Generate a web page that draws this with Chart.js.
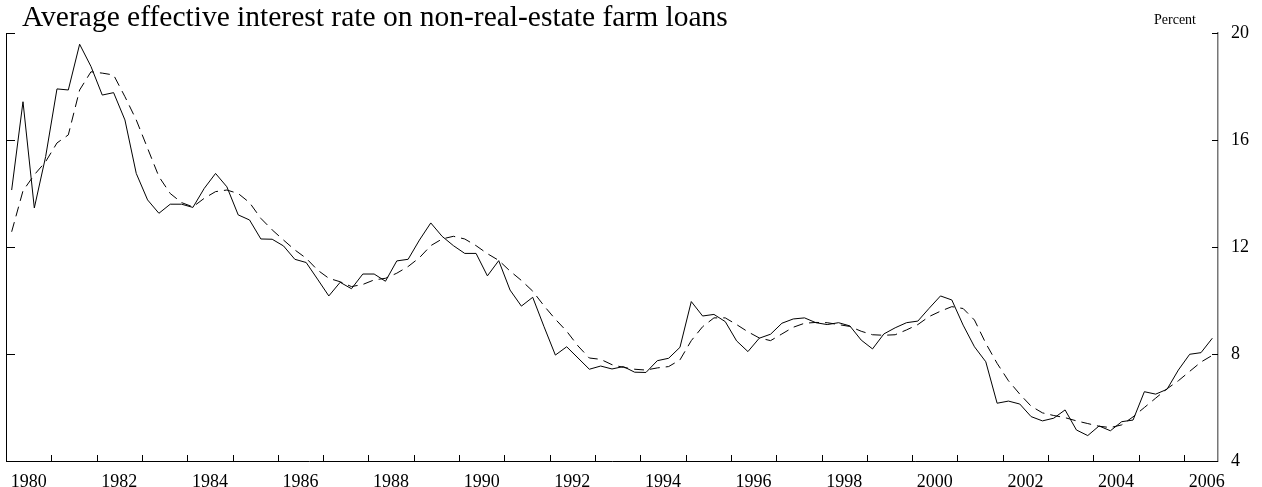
<!DOCTYPE html>
<html>
<head>
<meta charset="utf-8">
<script src="https://cdn.jsdelivr.net/npm/chart.js@4.4.1/dist/chart.umd.min.js"></script>
<style>
  body { margin: 0; background: #fff; }
  #wrap { position: relative; width: 1262px; height: 487px; }
  #title { position: absolute; left: 22px; top: 0px; font: 29.5px "Liberation Serif", serif; line-height: 32px; color: #000; }
  #unit { position: absolute; right: 66px; top: 12px; font: 14px "Liberation Serif", serif; color: #000; }
</style>
</head>
<body>
<div id="wrap">
  <canvas id="chart" width="1262" height="487"></canvas>
  <div id="title">Average effective interest rate on non-real-estate farm loans</div>
  <div id="unit">Percent</div>
</div>
<script>
// quarterly, 1980Q1 - 2006Q3
const startYear = 1980;
const yTicks = [4, 8, 12, 16, 20];
const xLabelYears = [1980, 1982, 1984, 1986, 1988, 1990, 1992, 1994, 1996, 1998, 2000, 2002, 2004, 2006];

const rate = [
  14.13, 17.43, 13.46, 15.38, 17.91, 17.87, 19.58, 18.75, 17.68, 17.77,
  16.75, 14.75, 13.76, 13.26, 13.6, 13.6, 13.48, 14.19, 14.75, 14.25,
  13.2, 13.01, 12.3, 12.29, 12.04, 11.54, 11.42, 10.8, 10.17, 10.68,
  10.44, 10.99, 10.99, 10.72, 11.48, 11.54, 12.26, 12.9, 12.4, 12.05,
  11.76, 11.76, 10.92, 11.49, 10.39, 9.79, 10.12, 9.02, 7.96, 8.27,
  7.85, 7.43, 7.55, 7.44, 7.53, 7.32, 7.31, 7.75, 7.84, 8.25,
  9.96, 9.42, 9.48, 9.21, 8.49, 8.09, 8.59, 8.74, 9.15, 9.31,
  9.35, 9.17, 9.10, 9.17, 9.05, 8.52, 8.19, 8.75, 8.98, 9.17,
  9.23, 9.71, 10.17, 10.02, 9.08, 8.27, 7.71, 6.16, 6.24, 6.13,
  5.66, 5.50, 5.60, 5.91, 5.16, 4.95, 5.31, 5.13, 5.47, 5.53,
  6.59, 6.50, 6.68, 7.40, 7.99, 8.05, 8.59
];

const smoothed = [
  12.57, 14.1, 14.7, 15.19, 15.89, 16.19, 17.87, 18.55, 18.5, 18.43,
  17.62, 16.75, 15.69, 14.63, 14.0, 13.66, 13.5, 13.82, 14.07, 14.13,
  14.0, 13.66, 13.07, 12.64, 12.26, 11.89, 11.58, 11.14, 10.83, 10.7,
  10.52, 10.6, 10.77, 10.83, 11.02, 11.27, 11.6, 12.05, 12.3, 12.4,
  12.3, 12.05, 11.75, 11.5, 11.1, 10.75, 10.35, 9.8, 9.3, 8.85,
  8.3, 7.85, 7.8, 7.6, 7.5, 7.43, 7.4, 7.48, 7.53, 7.78,
  8.5, 9.02, 9.35, 9.35, 9.1, 8.83, 8.6, 8.5, 8.75, 9.0,
  9.15, 9.18, 9.17, 9.1, 9.03, 8.85, 8.72, 8.7, 8.72, 8.9,
  9.1, 9.4, 9.6, 9.77, 9.7, 9.27, 8.4, 7.65, 7.0, 6.5,
  6.05, 5.8, 5.7, 5.62, 5.5, 5.4, 5.3, 5.25, 5.35, 5.65,
  6.0, 6.35, 6.7, 7.0, 7.35, 7.7, 7.95
];

const toPoints = arr => arr.map((v, i) => ({ x: startYear + i / 4 + 0.125, y: v }));

// inward tick marks: year ticks on bottom, value ticks on both sides
const innerTicks = {
  id: 'innerTicks',
  afterDraw(chart) {
    const { ctx, chartArea: a, scales: { x, y } } = chart;
    ctx.save();
    ctx.strokeStyle = '#000';
    ctx.lineWidth = 1;
    ctx.beginPath();
    ctx.moveTo(a.left + 0.5, a.top);
    ctx.lineTo(a.left + 0.5, a.bottom + 0.5);
    ctx.lineTo(a.right, a.bottom + 0.5);
    for (let yr = 1981; yr <= 2006; yr++) {
      const px = Math.round(x.getPixelForValue(yr)) + 0.5;
      ctx.moveTo(px, a.bottom);
      ctx.lineTo(px, a.bottom - 6);
    }
    yTicks.forEach(v => {
      const py = Math.round(y.getPixelForValue(v)) + 0.5;
      ctx.moveTo(a.left, py);
      ctx.lineTo(a.left + 9, py);
      ctx.moveTo(a.right, py);
      ctx.lineTo(a.right - 6, py);
    });
    ctx.stroke();
    ctx.restore();
  }
};

new Chart(document.getElementById('chart'), {
  type: 'line',
  data: {
    datasets: [
      { data: toPoints(rate), borderColor: '#000', borderWidth: 1, pointRadius: 0, tension: 0 },
      { data: toPoints(smoothed), borderColor: '#000', borderWidth: 1, borderDash: [10, 6], pointRadius: 0, tension: 0 }
    ]
  },
  options: {
    responsive: false,
    animation: false,
    layout: { padding: { left: 6, top: 33, right: 0, bottom: 0 } },
    plugins: { legend: { display: false }, tooltip: { enabled: false } },
    scales: {
      x: {
        type: 'linear',
        min: 1980,
        max: 2006.75,
        afterBuildTicks: s => { s.ticks = xLabelYears.map(v => ({ value: v + 0.5 })); },
        afterFit: s => { s.height = 26; },
        grid: { display: false },
        border: { display: false },
        ticks: {
          autoSkip: false,
          maxRotation: 0,
          padding: 2,
          color: '#000',
          font: { family: 'Liberation Serif', size: 18 },
          callback: v => String(Math.floor(v))
        }
      },
      y: {
        position: 'right',
        min: 4,
        max: 20,
        afterBuildTicks: s => { s.ticks = yTicks.map(v => ({ value: v })); },
        afterFit: s => { s.width = 44; },
        grid: { display: false },
        border: { display: true, color: '#777', width: 1.5 },
        ticks: {
          padding: 5,
          color: '#000',
          font: { family: 'Liberation Serif', size: 18 }
        }
      }
    }
  },
  plugins: [innerTicks]
});
</script>
</body>
</html>
